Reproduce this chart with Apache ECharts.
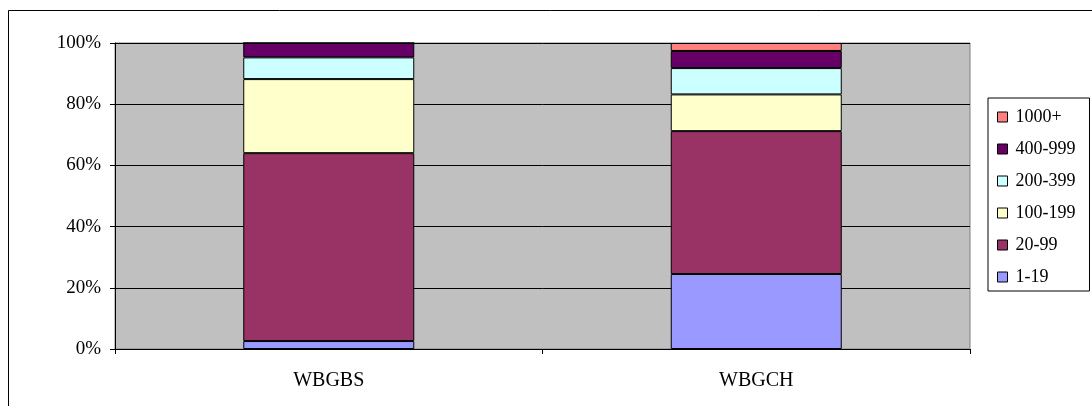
<!DOCTYPE html>
<html>
<head>
<meta charset="utf-8">
<script src="https://cdn.jsdelivr.net/npm/echarts@6/dist/echarts.min.js"></script>
<style>
  html, body { margin: 0; padding: 0; background: #fff; }
  #chart { width: 1092px; height: 406px; }
</style>
</head>
<body>
<div id="chart"></div>
<script>
// Share of units by size band, per site (percent of total)
const categories = ['WBGBS', 'WBGCH'];
const bands = ['1-19', '20-99', '100-199', '200-399', '400-999', '1000+'];
const band_1_19    = [2.6, 24.5];
const band_20_99   = [61.4, 46.7];
const band_100_199 = [24.2, 12.0];
const band_200_399 = [7.1, 8.6];
const band_400_999 = [4.7, 5.6];
const band_1000    = [0, 2.6];
const yTicks = [0, 20, 40, 60, 80, 100];

const bandValues = [band_1_19, band_20_99, band_100_199, band_200_399, band_400_999, band_1000];
const bandColors = ['#9999FF', '#993366', '#FFFFCC', '#CCFFFF', '#660066', '#FF8080'];

const FONT = 'Liberation Serif';

const chart = echarts.init(document.getElementById('chart'), null, { renderer: 'canvas' });

const series = bands.map((name, i) => ({
  name: name,
  type: 'bar',
  stack: 'total',
  barWidth: '40%',
  data: bandValues[i],
  itemStyle: { color: bandColors[i], borderColor: '#000', borderWidth: 1 },
  emphasis: { disabled: true },
  animation: false
}));

chart.setOption({
  backgroundColor: '#fff',
  animation: false,
  graphic: [{
    type: 'rect',
    shape: { x: 8.5, y: 10.5, width: 1200, height: 600 },
    style: { fill: 'none', stroke: '#000', lineWidth: 1 },
    silent: true,
    z: -1
  }],
  grid: {
    left: 115, right: 122, top: 43, bottom: 57,
    show: true,
    backgroundColor: '#C0C0C0',
    borderColor: '#808080',
    borderWidth: 1
  },
  legend: {
    orient: 'vertical',
    left: 988,
    top: 98,
    data: bands.slice().reverse(),
    icon: 'rect',
    itemWidth: 10,
    itemHeight: 10,
    itemGap: 14,
    padding: [10, 14, 5, 9],
    backgroundColor: '#fff',
    borderColor: '#000',
    borderWidth: 1,
    borderRadius: 0,
    itemStyle: { borderColor: '#000', borderWidth: 1 },
    textStyle: { fontFamily: FONT, fontSize: 18, lineHeight: 18, color: '#000', padding: [0, 0, 0, 3] },
    selectedMode: false
  },
  xAxis: {
    type: 'category',
    data: categories,
    axisLine: { lineStyle: { color: '#000', width: 1 } },
    axisTick: { show: true, length: 5, lineStyle: { color: '#000' } },
    axisLabel: { fontFamily: FONT, fontSize: 20, color: '#000', margin: 22 }
  },
  yAxis: {
    type: 'value',
    min: 0,
    max: 100,
    interval: 20,
    axisLine: { show: true, lineStyle: { color: '#000', width: 1 } },
    axisTick: { show: true, length: 5, lineStyle: { color: '#000' } },
    splitLine: { show: true, lineStyle: { color: '#000', width: 1 } },
    axisLabel: {
      fontFamily: FONT, fontSize: 19, color: '#000', margin: 14,
      formatter: v => (yTicks.includes(v) ? v + '%' : '')
    }
  },
  series: series
});
</script>
</body>
</html>
